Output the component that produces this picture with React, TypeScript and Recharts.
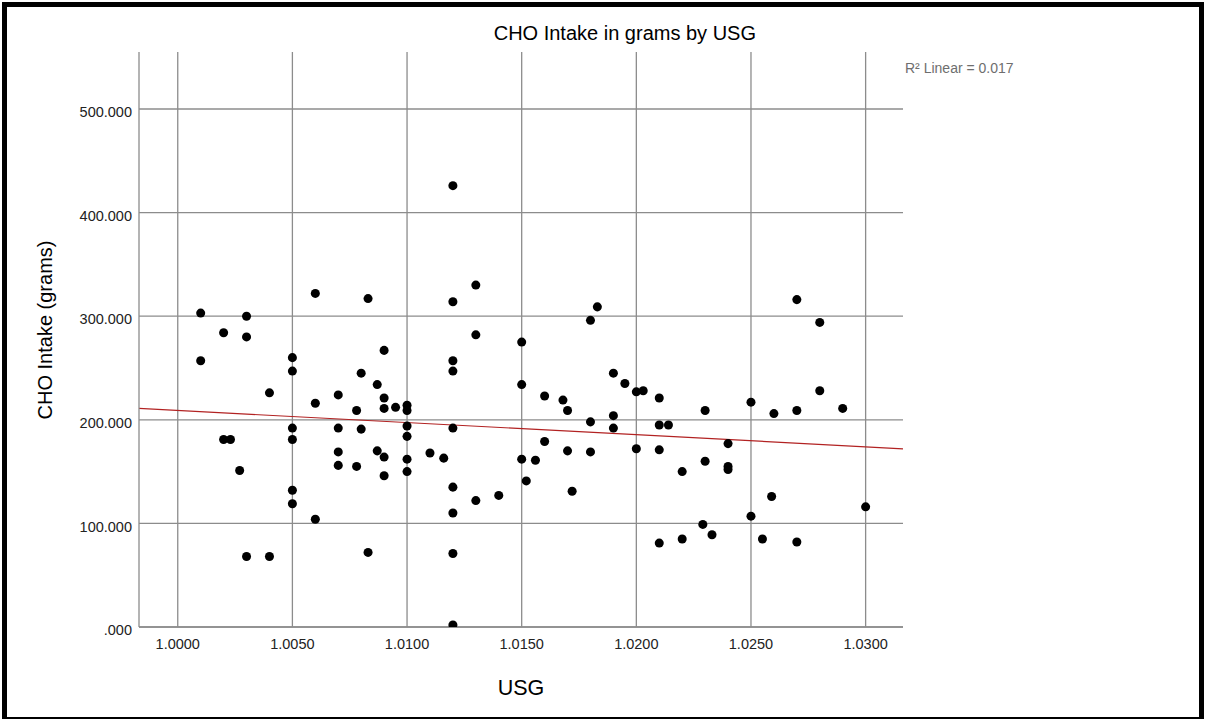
import React from "react";
import {
  ScatterChart,
  Scatter,
  XAxis,
  YAxis,
  ZAxis,
  CartesianGrid,
  ReferenceLine,
} from "recharts";

// USG (x) and CHO intake in grams (y)
const usgValues = [
  1.001, 1.001, 1.002, 1.002, 1.0023, 1.0027, 1.003, 1.003, 1.003, 1.004, 1.004,
  1.005, 1.005, 1.005, 1.005, 1.005, 1.005, 1.006, 1.006, 1.006, 1.007, 1.007,
  1.007, 1.007, 1.0078, 1.0078, 1.008, 1.008, 1.0083, 1.0083, 1.0087, 1.0087,
  1.009, 1.009, 1.009, 1.009, 1.009, 1.0095, 1.01, 1.01, 1.01, 1.01, 1.01, 1.01,
  1.011, 1.0116, 1.012, 1.012, 1.012, 1.012, 1.012, 1.012, 1.012, 1.012, 1.012,
  1.013, 1.013, 1.013, 1.014, 1.015, 1.015, 1.015, 1.0152, 1.0156, 1.016, 1.016,
  1.0168, 1.017, 1.017, 1.0172, 1.018, 1.018, 1.018, 1.0183, 1.019, 1.019, 1.019,
  1.0195, 1.02, 1.02, 1.0203, 1.021, 1.021, 1.021, 1.021, 1.0214, 1.022, 1.022,
  1.0229, 1.023, 1.023, 1.0233, 1.024, 1.024, 1.024, 1.025, 1.025, 1.0255, 1.0259,
  1.026, 1.027, 1.027, 1.027, 1.028, 1.028, 1.029, 1.03,
];
const choValues = [
  303, 257, 284, 181, 181, 151, 300, 280, 68, 226, 68,
  260, 247, 192, 181, 132, 119, 322, 216, 104, 224, 192,
  169, 156, 209, 155, 245, 191, 317, 72, 234, 170,
  267, 221, 211, 164, 146, 212, 214, 209, 194, 184, 162, 150,
  168, 163, 426, 314, 257, 247, 192, 135, 110, 71, 2,
  330, 282, 122, 127, 275, 234, 162, 141, 161, 223, 179,
  219, 209, 170, 131, 296, 198, 169, 309, 245, 204, 192,
  235, 227, 172, 228, 221, 195, 171, 81, 195, 150, 85,
  99, 209, 160, 89, 177, 155, 152, 217, 107, 85, 126,
  206, 316, 209, 82, 294, 228, 211, 116,
];

const xTicks = [1.0, 1.005, 1.01, 1.015, 1.02, 1.025, 1.03];
const yTicks = [0, 100, 200, 300, 400, 500];
const xDomain = [0.99831, 1.03163];
const yDomain = [0, 555];
// linear fit line ends, read at the plot edges
const fitX = [0.99831, 1.03163];
const fitY = [211, 172];

const points = usgValues.map((u, i) => ({ usg: u, cho: choValues[i] }));

const font = '"Liberation Sans", Arial, sans-serif';
const gridColor = "#8c8c8c";

const fmtY = (v: number) => (v === 0 ? ".000" : v.toFixed(3));

const XTick = (props: any) => {
  const { x, y, payload } = props;
  return (
    <text x={x} y={y + 17} dy="0.355em" textAnchor="middle" fontSize={14.5} fontFamily={font} fill="#222">
      {Number(payload.value).toFixed(4)}
    </text>
  );
};

const YTick = (props: any) => {
  const { x, y, payload } = props;
  return (
    <text x={x} y={y + 3} dy="0.355em" textAnchor="end" fontSize={14.5} fontFamily={font} fill="#222">
      {fmtY(payload.value)}
    </text>
  );
};

export default function App() {
  return (
    <div style={{ position: "fixed", left: 0, top: 0, width: 1207, height: 719, background: "#fff", overflow: "hidden", fontFamily: font }}>
      <div
        style={{
          position: "absolute",
          left: 2,
          top: 2,
          width: 1202,
          height: 720,
          border: "5px solid #000",
          boxSizing: "border-box",
        }}
      />
      <ScatterChart
        width={1207}
        height={719}
        margin={{ top: 52, right: 304, bottom: 0, left: 0 }}
        style={{ position: "absolute", left: 0, top: 0 }}
      >
        <CartesianGrid stroke={gridColor} strokeWidth={1.3} horizontalValues={yTicks} verticalValues={xTicks} />
        <XAxis
          type="number"
          dataKey="usg"
          domain={xDomain}
          ticks={xTicks}
          allowDataOverflow
          height={92}
          tickSize={0}
          tickMargin={0}
          tick={<XTick />}
          axisLine={{ stroke: gridColor, strokeWidth: 1.3 }}
          tickLine={false}
          interval={0}
        />
        <YAxis
          type="number"
          dataKey="cho"
          domain={yDomain}
          ticks={yTicks}
          allowDataOverflow
          width={139}
          tickSize={0}
          tickMargin={7}
          tick={<YTick />}
          axisLine={{ stroke: gridColor, strokeWidth: 1.3 }}
          tickLine={false}
          interval={0}
        />
        <ZAxis range={[80, 80]} />
        <ReferenceLine
          segment={[
            { x: fitX[0], y: fitY[0] },
            { x: fitX[1], y: fitY[1] },
          ]}
          stroke="#b22222"
          strokeWidth={1.2}
          ifOverflow="hidden"
        />
        <Scatter data={points} fill="#000" isAnimationActive={false} />
      </ScatterChart>
      <div style={{ position: "absolute", right: 1207 - 756, top: 33, transform: "translateY(-50%)", fontSize: 20, color: "#000", whiteSpace: "nowrap" }}>
        CHO Intake in grams by USG
      </div>
      <div style={{ position: "absolute", left: 905, top: 68, transform: "translateY(-50%)", fontSize: 14, color: "#6e6e6e", whiteSpace: "nowrap" }}>
        R² Linear = 0.017
      </div>
      <div style={{ position: "absolute", left: 521, top: 688, transform: "translate(-50%, -50%)", fontSize: 21.5, color: "#000", whiteSpace: "nowrap" }}>
        USG
      </div>
      <div style={{ position: "absolute", left: 45, top: 330, transform: "translate(-50%, -50%) rotate(-90deg)", fontSize: 20, color: "#000", whiteSpace: "nowrap" }}>
        CHO Intake (grams)
      </div>
    </div>
  );
}
